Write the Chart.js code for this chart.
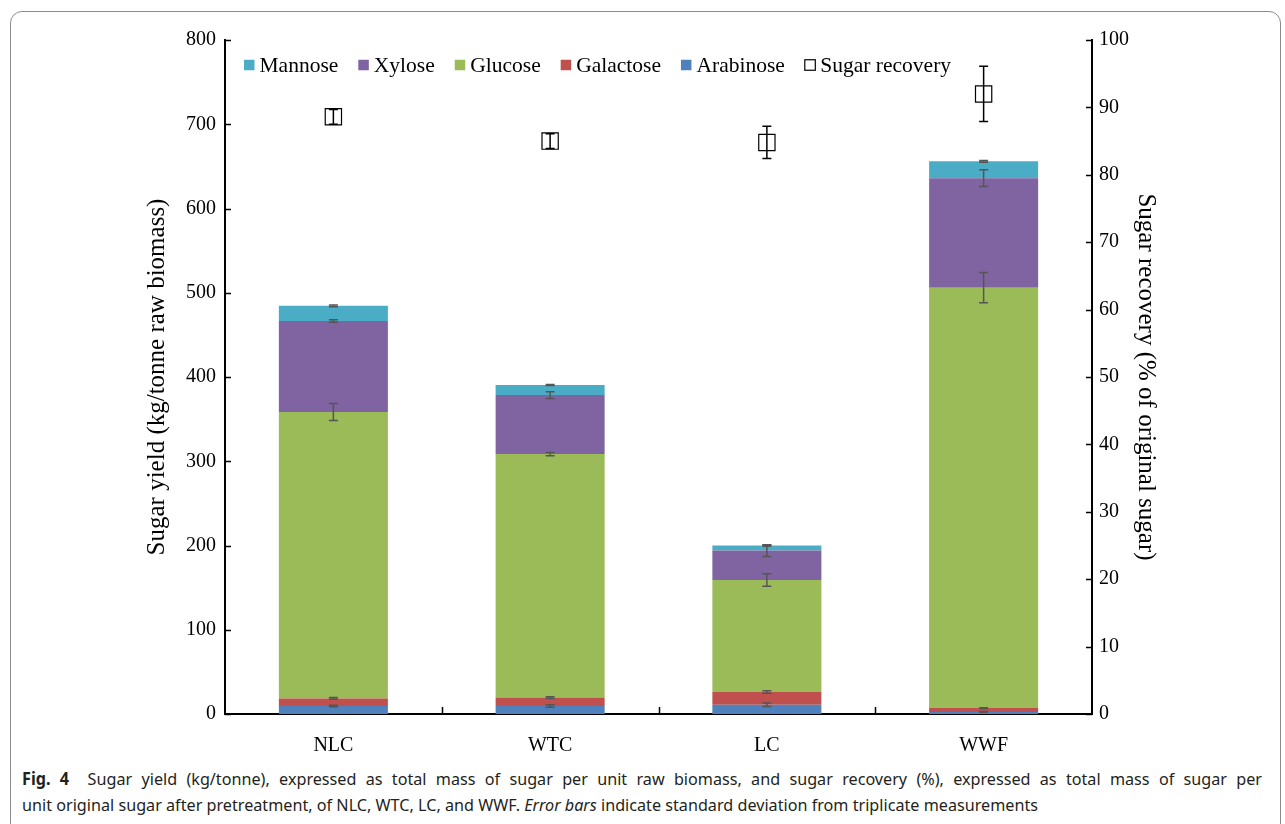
<!DOCTYPE html>
<html>
<head>
<meta charset="utf-8">
<title>Sugar yield and sugar recovery</title>
<script src="https://cdn.jsdelivr.net/npm/chart.js@4.4.1/dist/chart.umd.min.js"></script>
<style>
  html, body { margin: 0; padding: 0; background: #fff; }
  body { width: 1285px; height: 824px; position: relative; overflow: hidden; }
  #frame { position: absolute; left: 10px; top: 11px; width: 1271px; height: 860px;
           border: 1px solid #8c8c8c; border-radius: 12px; box-sizing: border-box; }
  #wrap { position: absolute; left: 0; top: 0; width: 1285px; height: 760px; }
  #caption { position: absolute; left: 22px; top: 766px; font-family: "Noto Sans", sans-serif;
             font-size: 17px; line-height: 26px; color: #231f20; white-space: nowrap; }
  #caption .line { display: inline-block; transform-origin: 0 0; }
</style>
</head>
<body>
<div id="frame"></div>
<div id="wrap"><canvas id="chart" width="1285" height="760"></canvas></div>
<div id="caption">
  <span class="line" id="cap1"><b>Fig. 4</b>&nbsp; Sugar yield (kg/tonne), expressed as total mass of sugar per unit raw biomass, and sugar recovery (%), expressed as total mass of sugar per</span><br>
  <span class="line" id="cap2">unit original sugar after pretreatment, of NLC, WTC, LC, and WWF. <i>Error bars</i> indicate standard deviation from triplicate measurements</span>
</div>
<script>
// Feedstocks
const categories = ['NLC', 'WTC', 'LC', 'WWF'];

// Sugar yield, kg per tonne raw biomass (mean and standard deviation)
const arabinose   = [9.5, 9.5, 11, 2.5];
const arabinoseSD = [1, 1.5, 2, 0.5];
const galactose   = [9, 10, 15, 4.5];
const galactoseSD = [1, 1, 1.5, 0.5];
const glucose     = [340, 289, 133, 499];
const glucoseSD   = [10, 2, 7.5, 18];
const xylose      = [108, 70, 35, 130];
const xyloseSD    = [1.5, 4, 7, 10];
const mannose     = [18, 12, 6, 20];
const mannoseSD   = [1, 0.5, 1, 1];

// Sugar recovery, % of original sugar
const recovery   = [88.6, 85.0, 84.8, 92.0];
const recoverySD = [1.1, 1.1, 2.4, 4.1];

// Axis ranges
const yieldAxis    = { min: 0, max: 800, step: 100 };
const recoveryAxis = { min: 0, max: 100, step: 10 };

const SERIF = "'Liberation Serif', 'Times New Roman', serif";

// Stack order, bottom to top
const sugars = [
  { label: 'Arabinose', values: arabinose, sd: arabinoseSD, color: '#4F81BD' },
  { label: 'Galactose', values: galactose, sd: galactoseSD, color: '#C0504D' },
  { label: 'Glucose',   values: glucose,   sd: glucoseSD,   color: '#9BBB59' },
  { label: 'Xylose',    values: xylose,    sd: xyloseSD,    color: '#8064A2' },
  { label: 'Mannose',   values: mannose,   sd: mannoseSD,   color: '#4BACC6' }
];

function errBar(ctx, x, yLo, yHi, cap) {
  ctx.beginPath();
  ctx.moveTo(x, yLo); ctx.lineTo(x, yHi);
  ctx.moveTo(x - cap, yLo); ctx.lineTo(x + cap, yLo);
  ctx.moveTo(x - cap, yHi); ctx.lineTo(x + cap, yHi);
  ctx.stroke();
}

// Standard deviation whiskers on each stacked segment and on recovery points
const errorBars = {
  id: 'errorBars',
  afterDatasetsDraw(chart) {
    const { ctx } = chart;
    const xs = chart.scales.x, ys = chart.scales.y, ys1 = chart.scales.y1;
    ctx.save();
    ctx.lineWidth = 1.5;
    ctx.strokeStyle = '#555555';
    categories.forEach((c, j) => {
      let top = 0;
      const px = xs.getPixelForValue(j);
      sugars.forEach(s => {
        top += s.values[j];
        errBar(ctx, px, ys.getPixelForValue(top - s.sd[j]), ys.getPixelForValue(top + s.sd[j]), 4.5);
      });
    });
    ctx.strokeStyle = '#000';
    recovery.forEach((v, j) => {
      const px = xs.getPixelForValue(j);
      errBar(ctx, px, ys1.getPixelForValue(v - recoverySD[j]), ys1.getPixelForValue(v + recoverySD[j]), 4.5);
    });
    ctx.restore();
  }
};

// Inward tick marks on all three axes
const innerTicks = {
  id: 'innerTicks',
  afterDraw(chart) {
    const { ctx, chartArea: a } = chart;
    const xs = chart.scales.x, ys = chart.scales.y, ys1 = chart.scales.y1;
    ctx.save();
    ctx.strokeStyle = '#000';
    ctx.lineWidth = 1.5;
    ctx.beginPath();
    ys.ticks.forEach(t => {
      const py = Math.round(ys.getPixelForValue(t.value)) + 0.5;
      ctx.moveTo(a.left, py); ctx.lineTo(a.left + 6, py);
    });
    ys1.ticks.forEach(t => {
      const py = Math.round(ys1.getPixelForValue(t.value)) + 0.5;
      ctx.moveTo(a.right - 6, py); ctx.lineTo(a.right, py);
    });
    for (let j = 1; j < categories.length; j++) {
      const px = Math.round((xs.getPixelForValue(j - 1) + xs.getPixelForValue(j)) / 2) + 0.5;
      ctx.moveTo(px, a.bottom); ctx.lineTo(px, a.bottom - 7);
    }
    ctx.stroke();
    ctx.restore();
  }
};

// Single-row key drawn inside the plot area
const keyRow = {
  id: 'keyRow',
  afterDraw(chart) {
    const { ctx, chartArea: a } = chart;
    const items = sugars.slice().reverse().map(s => ({ label: s.label, fill: s.color, stroke: null }));
    items.push({ label: 'Sugar recovery', fill: '#fff', stroke: '#000' });
    ctx.save();
    ctx.font = '21.5px ' + SERIF;
    ctx.textBaseline = 'middle';
    ctx.fillStyle = '#000';
    let x = a.left + 19;
    const yc = a.top + 25;
    const box = 10.5;
    items.forEach(it => {
      ctx.fillStyle = it.fill;
      ctx.fillRect(x, yc - box / 2, box, box);
      if (it.stroke) {
        ctx.strokeStyle = it.stroke;
        ctx.lineWidth = 1.2;
        ctx.strokeRect(x, yc - box / 2, box, box);
      }
      ctx.fillStyle = '#000';
      const tx = x + box + 5;
      ctx.fillText(it.label, tx, yc + 1);
      x = tx + ctx.measureText(it.label).width + 20;
    });
    ctx.restore();
  }
};

const barSets = sugars.map(s => ({
  type: 'bar',
  label: s.label,
  data: s.values,
  backgroundColor: s.color,
  borderWidth: 0,
  stack: 'sugar',
  yAxisID: 'y',
  barPercentage: 0.503,
  categoryPercentage: 1.0,
  order: 2
}));

const recoverySet = {
  type: 'line',
  label: 'Sugar recovery',
  data: recovery,
  yAxisID: 'y1',
  showLine: false,
  pointStyle: 'rect',
  pointRadius: 11.5,
  pointBorderColor: '#000',
  pointBackgroundColor: 'rgba(255,255,255,0)',
  pointBorderWidth: 1.2,
  order: 1
};

new Chart(document.getElementById('chart'), {
  data: { labels: categories, datasets: [...barSets, recoverySet] },
  options: {
    responsive: false,
    animation: false,
    devicePixelRatio: 1,
    layout: { padding: { left: 138, right: 120, top: 40, bottom: 0 } },
    plugins: { legend: { display: false }, tooltip: { enabled: false } },
    scales: {
      x: {
        stacked: true,
        offset: true,
        grid: { display: false, drawTicks: false },
        border: { display: true, color: '#000', width: 2 },
        ticks: { color: '#000', font: { family: SERIF, size: 20 }, padding: 20 },
        afterFit(s) { s.height = 46; }
      },
      y: {
        stacked: true,
        position: 'left',
        min: yieldAxis.min, max: yieldAxis.max,
        grid: { display: false, drawTicks: false },
        border: { display: true, color: '#000', width: 2 },
        ticks: { stepSize: yieldAxis.step, color: '#000', font: { family: SERIF, size: 20 }, padding: 9 },
        title: { display: true, text: 'Sugar yield (kg/tonne raw biomass)', color: '#000',
                 font: { family: SERIF, size: 25 }, padding: { top: 4, bottom: 4 } },
        afterFit(s) { s.width = 87; }
      },
      y1: {
        position: 'right',
        min: recoveryAxis.min, max: recoveryAxis.max,
        grid: { display: false, drawTicks: false },
        border: { display: true, color: '#000', width: 2 },
        ticks: { stepSize: recoveryAxis.step, color: '#000', font: { family: SERIF, size: 20 }, padding: 7 },
        title: { display: true, text: 'Sugar recovery (% of original sugar)', color: '#000',
                 font: { family: SERIF, size: 25 }, padding: { top: 4, bottom: 4 } },
        afterFit(s) { s.width = 73; }
      }
    }
  },
  plugins: [errorBars, innerTicks, keyRow]
});

// Caption: condensed to the column width, first line justified
(function () {
  const l1 = document.getElementById('cap1');
  const l2 = document.getElementById('cap2');
  const k = 1016 / l2.getBoundingClientRect().width;
  l1.style.transform = 'scaleX(' + k + ')';
  l2.style.transform = 'scaleX(' + k + ')';
  const natural = l1.getBoundingClientRect().width;
  const gaps = (l1.textContent.match(/[ \u00a0]/g) || []).length;
  if (gaps > 0 && natural < 1240) {
    l1.style.wordSpacing = ((1240 - natural) / k / gaps) + 'px';
  }
})();
</script>
</body>
</html>
